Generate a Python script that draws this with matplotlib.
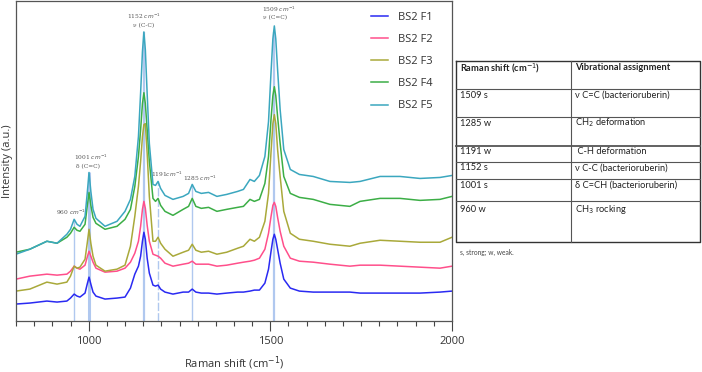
import numpy as np
import matplotlib
matplotlib.use('Agg')
import matplotlib.pyplot as plt
from matplotlib.ticker import MultipleLocator, FixedLocator

plt.rcParams['font.family'] = ['Open Sans', 'DejaVu Sans']

# Raman shift grid (cm-1)
shift = [800, 838, 885, 913, 940, 950, 960, 968, 976, 990,
         996, 1001, 1006, 1012, 1020, 1045, 1078, 1100, 1115, 1127,
         1137, 1143, 1148, 1152, 1156, 1161, 1167, 1177, 1184, 1191,
         1198, 1210, 1232, 1260, 1275, 1285, 1295, 1310, 1330, 1353,
         1380, 1410, 1426, 1444, 1456, 1470, 1485, 1495, 1502, 1507,
         1511, 1515, 1520, 1527, 1537, 1555, 1580, 1618, 1664, 1719,
         1747, 1802, 1857, 1912, 1967, 2000]

# Intensities (a.u., offset spectra)
bs2_f1 = [17, 18, 20, 19, 20, 23, 27, 25, 24, 28,
          37, 44, 37, 29, 25, 22, 23, 24, 33, 47,
          55, 65, 80, 89, 82, 63, 48, 36, 35, 36,
          32, 29, 27, 29, 29, 32, 29, 28, 28, 27,
          28, 29, 29, 30, 31, 31, 38, 52, 70, 82,
          87, 82, 72, 58, 42, 33, 30, 29, 29, 29,
          28, 28, 28, 28, 29, 30]
bs2_f2 = [42, 45, 47, 46, 47, 50, 55, 53, 52, 56,
          64, 70, 65, 59, 53, 49, 50, 53, 59, 68,
          80, 95, 112, 120, 113, 96, 80, 67, 66, 65,
          63, 58, 55, 57, 58, 60, 57, 57, 57, 55,
          56, 58, 59, 60, 61, 63, 72, 88, 105, 116,
          119, 115, 104, 90, 75, 63, 60, 59, 57, 55,
          56, 56, 55, 54, 53, 55]
bs2_f3 = [30, 32, 39, 37, 39, 45, 55, 53, 54, 62,
          78, 92, 78, 65, 56, 50, 52, 56, 75, 105,
          135, 160, 185, 197, 198, 168, 125, 80, 80, 84,
          78, 72, 65, 69, 71, 77, 71, 69, 70, 67,
          69, 73, 75, 82, 80, 84, 100, 128, 170, 198,
          207, 198, 172, 145, 110, 88, 82, 80, 77, 75,
          78, 81, 80, 79, 79, 84]
bs2_f4 = [69, 72, 80, 78, 84, 88, 94, 91, 90, 97,
          115, 129, 116, 104, 98, 92, 95, 102, 112, 135,
          165, 192, 218, 229, 218, 192, 160, 123, 120, 123,
          116, 110, 106, 112, 115, 123, 115, 113, 114, 110,
          112, 114, 115, 122, 120, 122, 138, 165, 203, 226,
          235, 226, 205, 178, 145, 128, 124, 122, 117, 115,
          120, 123, 123, 121, 122, 125]
bs2_f5 = [67, 72, 80, 78, 87, 92, 102, 97, 95, 105,
          128, 149, 130, 112, 103, 95, 100, 110, 122, 145,
          185, 229, 270, 290, 272, 228, 178, 137, 136, 140,
          133, 126, 122, 125, 128, 137, 130, 128, 129, 125,
          127, 130, 132, 142, 140, 146, 165, 200, 250, 283,
          296, 283, 252, 212, 172, 152, 147, 145, 140, 139,
          140, 145, 145, 143, 144, 146]

series = [bs2_f1, bs2_f2, bs2_f3, bs2_f4, bs2_f5]
labels = ['BS2 F1', 'BS2 F2', 'BS2 F3', 'BS2 F4', 'BS2 F5']
colors = ['#2a2af2', '#ff4f8b', '#a9a93a', '#3cae46', '#3ba7bf']

# marked bands
bands = [960, 1001, 1152, 1191, 1285, 1509]

# table
table_head = ['Raman shift (cm$^{-1}$)', 'Vibrational assignment']
table_shift = ['1509 s', '1285 w', '1191 w', '1152 s', '1001 s', '960 w']
table_assign = ['ν C=C (bacterioruberin)', 'CH$_2$ deformation', ' C-H deformation',
                'ν C-C (bacterioruberin)', 'δ C=CH (bacterioruberin)', 'CH$_3$ rocking']

W, H = 702, 372
fig = plt.figure(figsize=(W / 100, H / 100), dpi=100)
ax = fig.add_axes([16 / W, (H - 321) / H, 436 / W, 320 / H])

# band marker lines
top = np.interp(bands, shift, bs2_f5)
widths = [1.0, 2.2, 1.6, 1.0, 1.0, 1.6]
for b, t, lw in zip(bands, top, widths):
    ls = (0, (6, 1.5)) if b == 1191 else '-'
    ax.vlines(b, 0, t, color='#b0c8ef', lw=lw, ls=ls, zorder=1)

for y, lab, c in zip(series, labels, colors):
    ax.plot(shift, y, color=c, lw=1.1, label=lab, zorder=2)

ax.set_xlim(800, 2000)
ax.set_ylim(0, 321)
ax.set_yticks([])
ax.xaxis.set_major_locator(FixedLocator([1000, 1500, 2000]))
ax.xaxis.set_minor_locator(MultipleLocator(50))
ax.tick_params(axis='x', which='major', direction='out', length=7, width=0.8,
               color='#444444', labelsize=8, labelcolor='#333333', pad=4)
ax.tick_params(axis='x', which='minor', direction='out', length=3.5, width=0.8,
               color='#444444')
for sp in ax.spines.values():
    sp.set_color('#555555')
    sp.set_linewidth(0.9)

ax.set_xlabel('Raman shift (cm$^{-1}$)', fontsize=8, color='#333333', labelpad=5)
ax.set_ylabel('Intensity (a.u.)', fontsize=8, color='#333333', labelpad=2)

# peak annotations
af = dict(fontsize=4.2, color='#555555', family='DejaVu Serif', ha='center', va='center')
ax.text(1152, 306, '1152 $cm^{-1}$', **af)
ax.text(1150, 296, 'ν (C-C)', **af)
ax.text(1522, 313, '1509 $cm^{-1}$', **af)
ax.text(1513, 304, 'ν (C=C)', **af)
ax.text(1006, 164, '1001 $cm^{-1}$', **af)
ax.text(997, 155, 'δ (C=C)', **af)
ax.text(1216, 147, '1191$cm^{-1}$', **af)
ax.text(1306, 143, '1285 $cm^{-1}$', **af)
ax.text(950, 109, '960 $cm^{-1}$', **af)

leg = ax.legend(loc='upper left', bbox_to_anchor=(371 / W, 1 - 12 / H),
                bbox_transform=fig.transFigure, frameon=False, fontsize=8,
                handlelength=1.5, handletextpad=0.9, labelspacing=1.0,
                borderpad=0, borderaxespad=0)
for t in leg.get_texts():
    t.set_color('#333333')

# table on the right, drawn in pixel coordinates
tx = fig.add_axes([0, 0, 1, 1])
tx.set_xlim(0, W)
tx.set_ylim(H, 0)
tx.axis('off')
rows = [61, 89, 117, 146, 162, 179, 201, 242]
left, mid, right = 456, 571, 700
tx.plot([left, right, right, left, left], [rows[0], rows[0], rows[-1], rows[-1], rows[0]],
        color='#333333', lw=1.0)
tx.plot([mid, mid], [rows[0], rows[-1]], color='#555555', lw=0.8)
for r in rows[1:-1]:
    tx.plot([left, right], [r, r], color='#555555', lw=1.3 if r == 146 else 0.8)

tf = dict(fontsize=6.7, color='#222222', family=['Lato', 'DejaVu Sans'], va='center', ha='left')
tx.text(460, 68, table_head[0], fontweight='bold', **tf)
tx.text(575, 68, table_head[1], fontweight='bold', **tf)
text_y = [95, 123, 152, 168, 185, 210]
for yy, s, a in zip(text_y, table_shift, table_assign):
    tx.text(460, yy, s, **tf)
    tx.text(575, yy, a, **tf)
tx.text(460, 252, 's, strong; w, weak.', fontsize=4.8, color='#444444',
        family=['Lato', 'DejaVu Sans'], va='center', ha='left')

fig.savefig('out.png', dpi=100)
